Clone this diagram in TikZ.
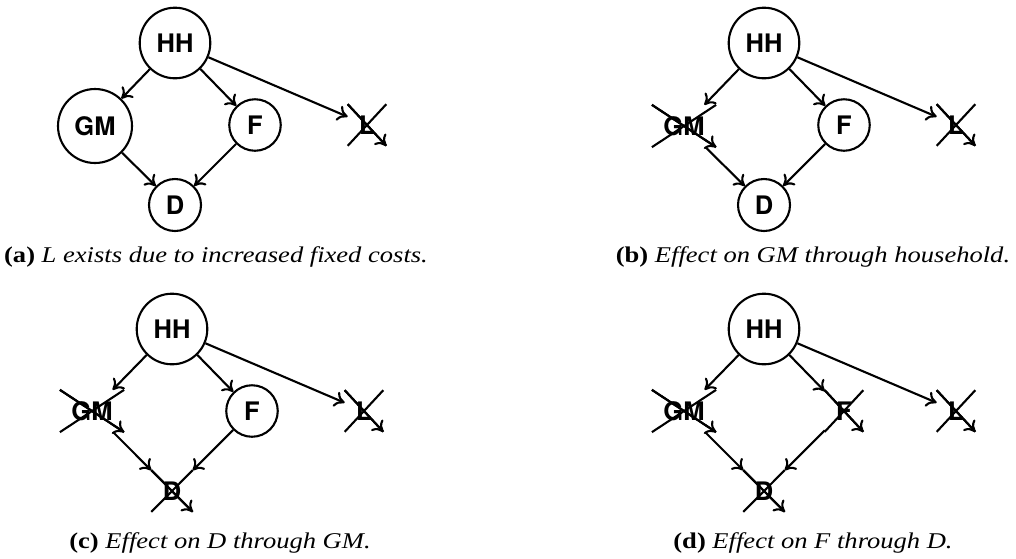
\documentclass[tikz,border=0pt]{standalone}
\usepackage{fontspec}
\setmainfont[FakeStretch=1.18]{Liberation Serif}
\setsansfont{TeX Gyre Heros}
\usetikzlibrary{shapes.misc,arrows.meta}
\tikzset{
  lbl/.style={font=\sffamily\bfseries\fontsize{25.5}{30}\selectfont},
  live/.style={lbl, circle, draw, line width=2.1pt, inner sep=0pt, minimum size=#1},
  dead/.style={lbl, cross out, draw, line width=2.1pt, inner sep=10.5pt},
  arr/.style={line width=2.1pt, -{To[length=10pt,width=16pt]}},
  captxt/.style={font=\fontsize{22.5}{26}\selectfont, anchor=base, inner sep=0pt},
}
\begin{document}
\begin{tikzpicture}[x=1pt,y=-1pt]
\useasboundingbox (0,0) rectangle (1016,558);
% (a)
\begin{scope}[shift={(175,43)}, name prefix=a-]
  \node[live=70.6pt] (HH) at (0,0) {HH};
  \node[live=74pt] (GM) at (-80,83) {GM};
  \node[live=51.5pt] (F) at (80,82) {F};
  \node[live=52pt] (D) at (0,162) {D};
  \node[dead] (L) at (192,82) {L};
  \draw[arr] (L.north west) -- (L.south east);
  \draw[arr] (HH) -- (GM);
  \draw[arr] (HH) -- (F);
  \draw[arr] (HH) -- (L);
  \draw[arr] (GM) -- (D);
  \draw[arr] (F) -- (D);
\end{scope}
% (b)
\begin{scope}[shift={(764,43)}, name prefix=b-]
  \node[live=70.6pt] (HH) at (0,0) {HH};
  \node[dead] (GM) at (-80,83) {GM};
  \node[live=51.5pt] (F) at (80,82) {F};
  \node[live=52pt] (D) at (0,162) {D};
  \node[dead] (L) at (192,82) {L};
  \draw[arr] (GM.north west) -- (GM.south east);
  \draw[arr] (L.north west) -- (L.south east);
  \draw[arr] (HH) -- (GM);
  \draw[arr] (HH) -- (F);
  \draw[arr] (HH) -- (L);
  \draw[arr] (GM) -- (D);
  \draw[arr] (F) -- (D);
\end{scope}
% (c)
\begin{scope}[shift={(172,329)}, name prefix=c-]
  \node[live=70.6pt] (HH) at (0,0) {HH};
  \node[dead] (GM) at (-80,82) {GM};
  \node[live=51.5pt] (F) at (80,82) {F};
  \node[dead] (D) at (0,162) {D};
  \node[dead] (L) at (192,82) {L};
  \draw[arr] (GM.north west) -- (GM.south east);
  \draw[arr] (D.north west) -- (D.south east);
  \draw[arr] (L.north west) -- (L.south east);
  \draw[arr] (HH) -- (GM);
  \draw[arr] (HH) -- (F);
  \draw[arr] (HH) -- (L);
  \draw[arr] (GM) -- (D);
  \draw[arr] (F) -- (D);
\end{scope}
% (d)
\begin{scope}[shift={(764,329)}, name prefix=d-]
  \node[live=70.6pt] (HH) at (0,0) {HH};
  \node[dead] (GM) at (-80,82) {GM};
  \node[dead] (F) at (80,82) {F};
  \node[dead] (D) at (0,162) {D};
  \node[dead] (L) at (192,82) {L};
  \draw[arr] (GM.north west) -- (GM.south east);
  \draw[arr] (F.north west) -- (F.south east);
  \draw[arr] (D.north west) -- (D.south east);
  \draw[arr] (L.north west) -- (L.south east);
  \draw[arr] (HH) -- (GM);
  \draw[arr] (HH) -- (F);
  \draw[arr] (HH) -- (L);
  \draw[arr] (GM) -- (D);
  \draw[arr] (F) -- (D);
\end{scope}
% captions
\node[captxt] (capa) at (216,262) {\textbf{(a)} \textit{L exists due to increased fixed costs.}};
\node[captxt] (capb) at (813,262) {\textbf{(b)} \textit{Effect on GM through household.}};
\node[captxt] (capc) at (220,548) {\textbf{(c)} \textit{Effect on D through GM.}};
\node[captxt] (capd) at (813,548) {\textbf{(d)} \textit{Effect on F through D.}};
\end{tikzpicture}
\end{document}
